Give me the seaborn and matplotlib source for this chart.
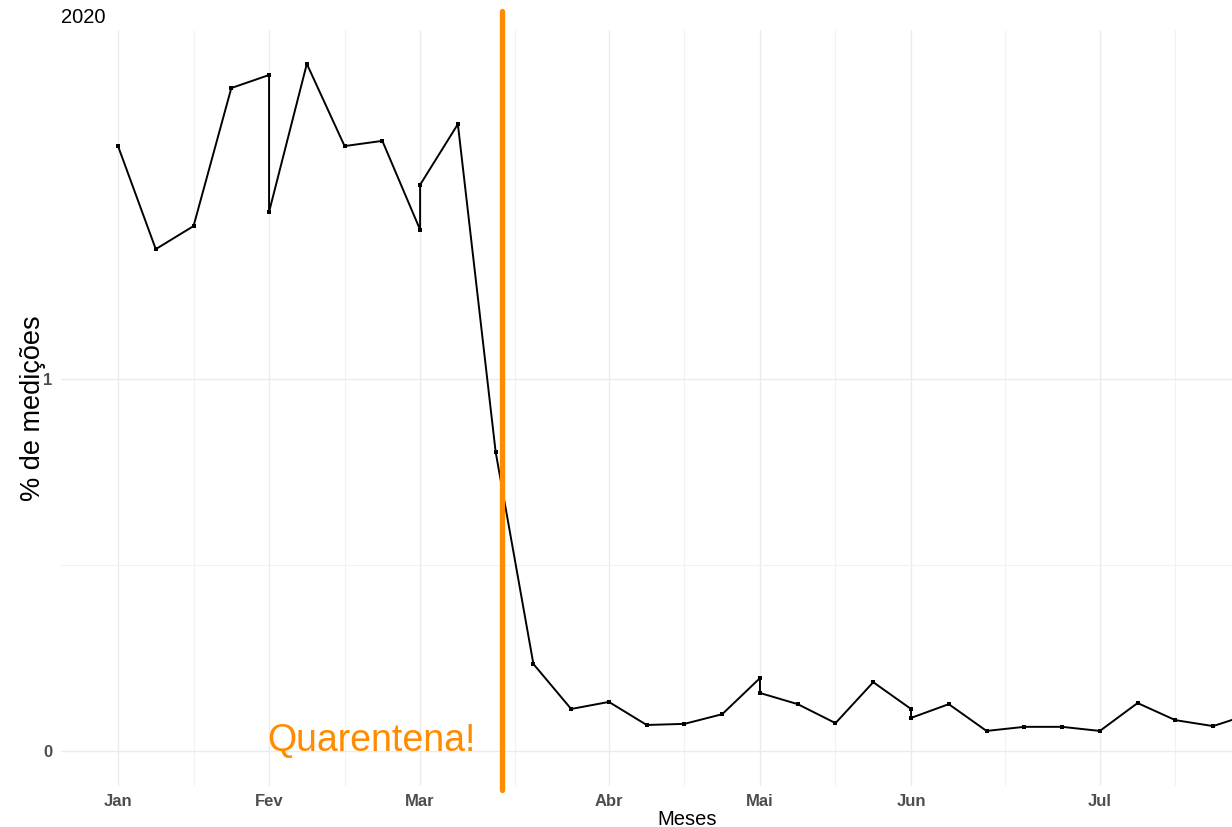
import matplotlib
matplotlib.use('Agg')
import matplotlib.pyplot as plt
import pandas as pd
import seaborn as sns

# weekly values (x = weeks since start of January); month starts repeat a week
weeks = [0, 1, 2, 3, 4, 4, 5, 6, 7, 8, 8, 9, 10, 11, 12, 13, 14, 15, 16, 17, 17,
         18, 19, 20, 21, 21, 22, 23, 24, 25, 26, 27, 28, 29, 30]
pct = [1.626, 1.349, 1.411, 1.782, 1.817, 1.449, 1.847, 1.626, 1.640, 1.401, 1.522,
       1.685, 0.804, 0.234, 0.113, 0.132, 0.070, 0.073, 0.099, 0.196, 0.156,
       0.126, 0.075, 0.185, 0.113, 0.089, 0.126, 0.054, 0.065, 0.065, 0.054,
       0.129, 0.083, 0.067, 0.100]

month_weeks = [0, 4, 8, 13, 17, 21, 26]
month_labels = ['Jan', 'Fev', 'Mar', 'Abr', 'Mai', 'Jun', 'Jul']
minor_weeks = [2, 6, 10.5, 15, 19, 23.5, 28]
quarantine_week = 10.17

df = pd.DataFrame({'semana': weeks, 'pct': pct})

sns.set_theme(style='white')
plt.rcParams['font.family'] = ['Liberation Sans', 'DejaVu Sans']

fig = plt.figure(figsize=(12.32, 8.27), dpi=100)
ax = fig.add_axes([61 / 1232, 41 / 827, 1171 / 1232, 756 / 827])

# grid like ggplot theme_minimal
ax.set_xticks(month_weeks)
ax.set_xticks(minor_weeks, minor=True)
ax.set_yticks([0, 1])
ax.set_yticks([0.5], minor=True)
ax.grid(which='major', color='#EBEBEB', lw=1.0)
ax.grid(which='minor', color='#F2F2F2', lw=0.8)
ax.set_axisbelow(True)
for s in ax.spines.values():
    s.set_visible(False)

sns.lineplot(data=df, x='semana', y='pct', estimator=None, sort=False,
             color='black', lw=1.4, marker='s', markersize=2.6,
             markeredgewidth=0, ax=ax)

ax.axvline(quarantine_week, ymin=-0.005, ymax=1.025, color='#FF8C00', lw=3.8,
           clip_on=False)
ax.text(9.48, 0, 'Quarentena!', color='#FF8C00', fontsize=27,
        ha='right', va='baseline')

ax.set_xlim(-1.51, 29.5)
ax.set_ylim(-0.094, 1.938)

ax.set_xticklabels(month_labels, fontsize=12, fontweight='bold', color='#4D4D4D')
ax.set_yticklabels(['0', '1'], fontsize=12, fontweight='bold', color='#4D4D4D')
ax.tick_params(axis='both', which='both', length=0)
ax.tick_params(axis='x', pad=6)
ax.tick_params(axis='y', pad=6)

ax.set_xlabel('Meses', fontsize=14.5, color='black')
ax.xaxis.set_label_coords(0.535, -0.032)
ax.set_ylabel('% de medições', fontsize=19.5, color='black')
ax.yaxis.set_label_coords(-0.013, 0.5)
ax.set_title('2020', loc='left', fontsize=14.5, pad=5, color='black')

fig.savefig('out.png', dpi=100)
